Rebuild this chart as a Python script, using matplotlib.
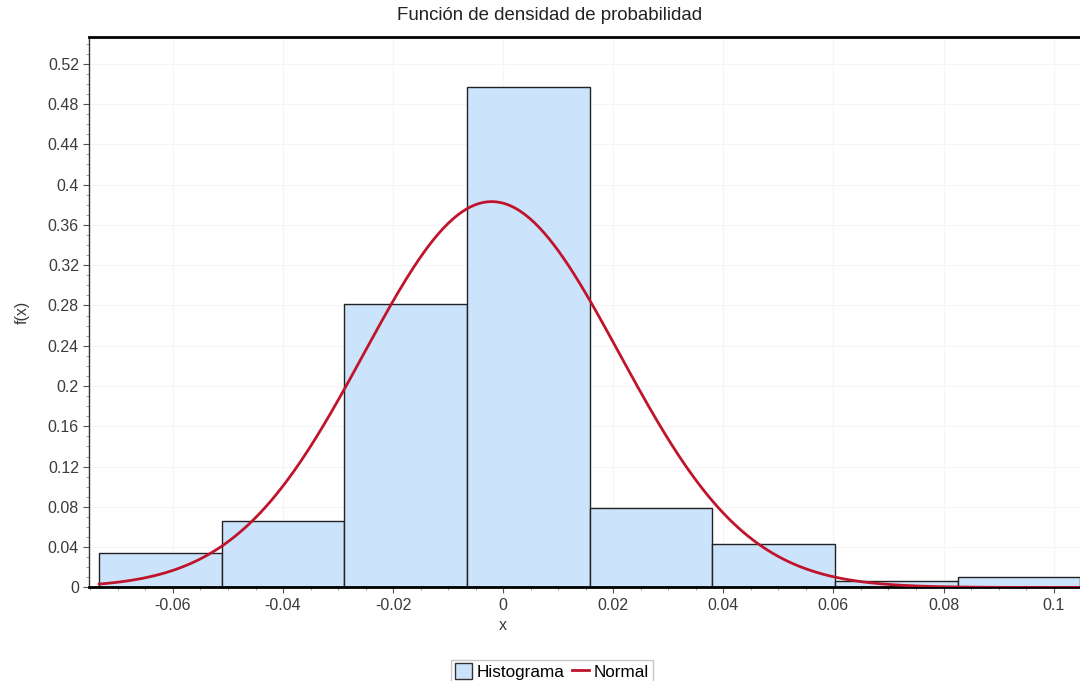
import numpy as np
import matplotlib.pyplot as plt
from matplotlib.patches import Patch
from matplotlib.lines import Line2D
from matplotlib.ticker import MultipleLocator, FuncFormatter

plt.rcParams['font.family'] = ['Liberation Sans', 'DejaVu Sans']

# histogram (relative frequencies)
bin_start = -0.0734
bin_width = 0.02228
freqs = [0.034, 0.066, 0.281, 0.497, 0.079, 0.043, 0.006, 0.010]

# fitted normal curve parameters
mu = -0.0021
sigma = 0.0232


def fmt(v, pos):
    s = "%.2f" % v
    s = s.rstrip("0").rstrip(".")
    if s in ("-0", ""):
        s = "0"
    return s


def printplot():
    fig = plt.figure(figsize=(10.8, 6.81), dpi=100)
    ax = fig.add_axes([0.0827, 0.1373, 0.9173, 0.8084])

    edges = bin_start + bin_width * np.arange(len(freqs))
    ax.bar(edges, freqs, width=bin_width, align='edge',
           color='#cce4fb', edgecolor='#222222', linewidth=1.0, zorder=2)

    xs = np.linspace(bin_start, bin_start + bin_width * len(freqs), 400)
    ys = bin_width * np.exp(-0.5 * ((xs - mu) / sigma) ** 2) / (sigma * np.sqrt(2 * np.pi))
    ax.plot(xs, ys, color='#c0142c', linewidth=2.0, zorder=3)

    ax.set_xlim(-0.0752, 0.1048)
    ax.set_ylim(0, 0.5466)

    ax.xaxis.set_major_locator(MultipleLocator(0.02))
    ax.xaxis.set_minor_locator(MultipleLocator(0.005))
    ax.yaxis.set_major_locator(MultipleLocator(0.04))
    ax.yaxis.set_minor_locator(MultipleLocator(0.01))
    ax.xaxis.set_major_formatter(FuncFormatter(fmt))
    ax.yaxis.set_major_formatter(FuncFormatter(fmt))

    ax.tick_params(axis='both', which='major', length=4, width=0.8,
                   color='#555555', labelsize=11.5, labelcolor='#3a3a3a')
    ax.tick_params(axis='both', which='minor', length=2, width=0.6, color='#888888')

    ax.grid(True, which='major', color='#f5f5f5', linewidth=0.8, zorder=0)
    ax.set_axisbelow(True)

    ax.spines['right'].set_visible(False)
    ax.spines['top'].set_linewidth(2)
    ax.spines['bottom'].set_linewidth(2)
    ax.spines['left'].set_linewidth(1)
    ax.spines['left'].set_color('#333333')

    fig.text(503 / 1080, 1 - 626 / 681, 'x', fontsize=11.5,
             color='#3a3a3a', ha='center', va='center')
    fig.text(22 / 1080, 1 - 312 / 681, 'f(x)', rotation=90, fontsize=11.5,
             color='#3a3a3a', ha='center', va='center')
    fig.text(550 / 1080, 1 - 16 / 681, 'Función de densidad de probabilidad',
             fontsize=13.4, color='#222222', ha='center', va='center')

    handles = [Patch(facecolor='#cce4fb', edgecolor='#333333', linewidth=1.0),
               Line2D([0], [0], color='#c0142c', linewidth=2.0)]
    fig.legend(handles, ['Histograma', 'Normal'], loc='upper center',
               bbox_to_anchor=(552 / 1080, 1 - 660 / 681), ncol=2,
               fontsize=12.3, frameon=True, fancybox=False, edgecolor='#bbbbbb',
               handlelength=1.0, handleheight=1.0, handletextpad=0.3,
               columnspacing=0.4, borderpad=0.2, borderaxespad=0)

    fig.savefig('out.png', dpi=100)


if __name__ == "__main__":
    printplot()
